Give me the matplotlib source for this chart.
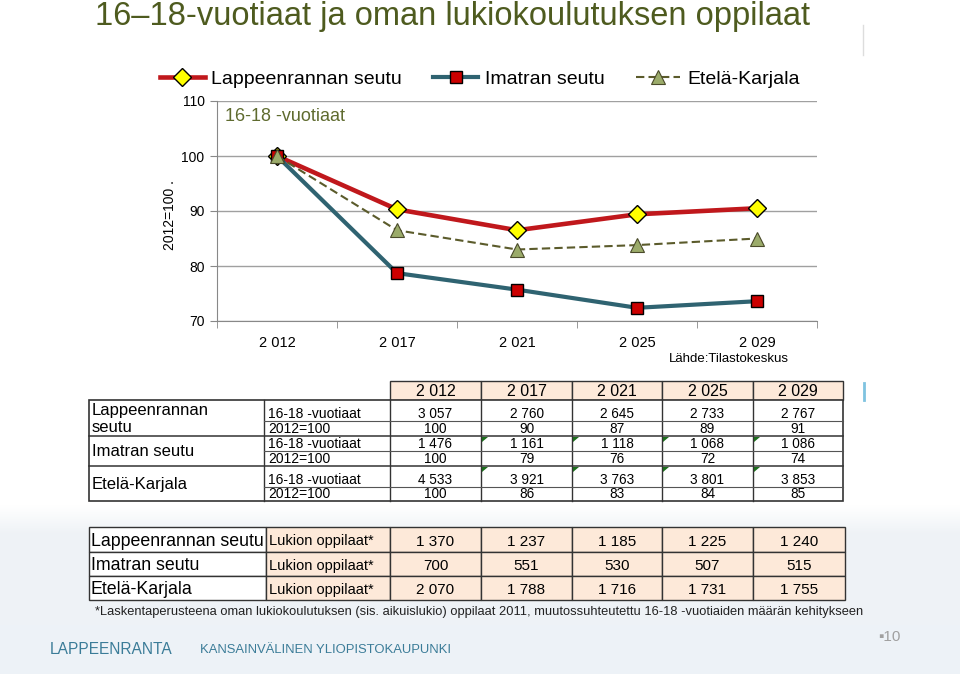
import matplotlib
matplotlib.use("Agg")
import matplotlib.pyplot as plt
import numpy as np
from matplotlib.patches import Rectangle, Polygon

plt.rcParams["font.family"] = ["Liberation Sans", "DejaVu Sans"]

# --- data -------------------------------------------------------------
years = ["2 012", "2 017", "2 021", "2 025", "2 029"]
regions = ["Lappeenrannan seutu", "Imatran seutu", "Etelä-Karjala"]

# index values (2012=100)
lpr_index = [100, 90.3, 86.5, 89.4, 90.5]
ima_index = [100, 78.7, 75.7, 72.4, 73.6]
ek_index = [100, 86.5, 83.0, 83.8, 85.0]

# upper table
lpr_count = [3057, 2760, 2645, 2733, 2767]
lpr_pct = [100, 90, 87, 89, 91]
ima_count = [1476, 1161, 1118, 1068, 1086]
ima_pct = [100, 79, 76, 72, 74]
ek_count = [4533, 3921, 3763, 3801, 3853]
ek_pct = [100, 86, 83, 84, 85]

# lower table
lpr_lukio = [1370, 1237, 1185, 1225, 1240]
ima_lukio = [700, 551, 530, 507, 515]
ek_lukio = [2070, 1788, 1716, 1731, 1755]

title = "16\u201318-vuotiaat ja oman lukiokoulutuksen oppilaat"
footnote = ("*Laskentaperusteena oman lukiokoulutuksen (sis. aikuislukio) oppilaat 2011, "
            "muutossuhteutettu 16-18 -vuotiaiden määrän kehitykseen")

TITLE_C = "#4e5b1f"
PEACH = "#fde9d9"
EDGE = "#333333"


def fmt(v):
    return f"{v:,}".replace(",", " ")


fig = plt.figure(figsize=(9.6, 6.74), dpi=100)

# background axes in pixel coordinates (slide decoration + tables)
bg = fig.add_axes([0, 0, 1, 1], zorder=0)
bg.set_xlim(0, 960)
bg.set_ylim(674, 0)
bg.axis("off")

# light band at the bottom of the slide
grad = np.linspace(0, 1, 40)[:, None]
bg.imshow(grad, extent=(0, 960, 535, 505), cmap=matplotlib.colors.LinearSegmentedColormap.from_list(
    "g", ["#ffffff", "#eef2f6"]), aspect="auto", zorder=0)
bg.add_patch(Rectangle((0, 535), 960, 139, facecolor="#eef2f6", edgecolor="none", zorder=0))
bg.add_patch(Rectangle((0, 625), 960, 49, facecolor="#edf2f7", edgecolor="none", zorder=0))

bg.text(95, 16, title, fontsize=23.5, color=TITLE_C, va="center", ha="left")
bg.plot([863, 863], [25, 55], color="#dddddd", lw=1)
bg.plot([864, 864], [383, 400], color="#7fc3e0", lw=2)

# --- line chart ---------------------------------------------------------
ax = fig.add_axes([217 / 960, 1 - 321 / 674, 600 / 960, 220 / 674], zorder=2)
ax.patch.set_alpha(0)
x = np.arange(len(years))
l1, = ax.plot(x, lpr_index, color="#c0181c", lw=3.3, marker="D", ms=9,
              mfc="#ffff00", mec="black", mew=1, solid_joinstyle="round")
l2, = ax.plot(x, ima_index, color="#2f6371", lw=3.0, marker="s", ms=8,
              mfc="#cc0000", mec="black", mew=1, solid_joinstyle="round")
l3, = ax.plot(x, ek_index, color="#5b5b2b", lw=1.5, ls=(0, (4, 2)), marker="^", ms=10,
              mfc="#9bab6a", mec="#4a4a2a", mew=0.8)

ax.set_xlim(-0.5, len(years) - 0.5)
ax.set_ylim(70, 110)
ax.set_yticks([70, 80, 90, 100, 110])
ax.set_xticks(x)
ax.set_xticklabels(years)
ax.set_xticks(np.arange(-0.5, len(years), 1), minor=True)
ax.tick_params(axis="x", which="major", length=0, pad=11, labelsize=10.5)
ax.tick_params(axis="x", which="minor", length=5, color="#888888", direction="out")
ax.tick_params(axis="y", length=5, color="#888888", labelsize=10, pad=4)
ax.yaxis.grid(True, color="#a0a0a0", lw=1)
ax.set_axisbelow(True)
for s in ["top", "right"]:
    ax.spines[s].set_visible(False)
for s in ["left", "bottom"]:
    ax.spines[s].set_color("#888888")

fig.text(170 / 960, 1 - 215 / 674, "2012=100 .", rotation=90, fontsize=10,
         ha="center", va="center")
ax.text(0.013, 0.93, "16-18 -vuotiaat", transform=ax.transAxes, fontsize=13,
        color="#5f6b2f", ha="left", va="center")
fig.text(789 / 960, 1 - 359 / 674, "Lähde:Tilastokeskus", fontsize=9.5, ha="right", va="center")

fig.legend([l1, l2, l3], regions, loc="center left", bbox_to_anchor=(152 / 960, 1 - 79 / 674),
           ncol=3, frameon=False, fontsize=14, handlelength=2.3, handletextpad=0.35,
           columnspacing=1.6, borderaxespad=0)

# --- upper table ----------------------------------------------------------
col_x = [89, 264, 390, 481, 572, 662, 753, 843]
row_y = [400, 421, 436, 451, 466, 487, 501]
head_top = 381

for j, yr in enumerate(years):
    x0, x1 = col_x[j + 2], col_x[j + 3]
    bg.add_patch(Rectangle((x0, head_top), x1 - x0, row_y[0] - head_top,
                           facecolor=PEACH, edgecolor=EDGE, lw=1, zorder=2))
    bg.text((x0 + x1) / 2, (head_top + row_y[0]) / 2 + 1, yr, fontsize=11.5,
            ha="center", va="center", zorder=3)

bg.add_patch(Rectangle((col_x[0], row_y[0]), col_x[-1] - col_x[0], row_y[-1] - row_y[0],
                       facecolor="white", edgecolor=EDGE, lw=1.2, zorder=2))
for cx in col_x[1:-1]:
    bg.plot([cx, cx], [row_y[0], row_y[-1]], color=EDGE, lw=1, zorder=3)
for k, ry in enumerate(row_y[1:-1]):
    if k % 2 == 1:
        bg.plot([col_x[0], col_x[-1]], [ry, ry], color=EDGE, lw=1.1, zorder=3)
    else:
        bg.plot([col_x[1], col_x[-1]], [ry, ry], color="#555555", lw=0.8, zorder=3)

upper_rows = [lpr_count, lpr_pct, ima_count, ima_pct, ek_count, ek_pct]
sub_labels = ["16-18 -vuotiaat", "2012=100"] * 3
for r, vals in enumerate(upper_rows):
    yb = row_y[r + 1] - 7
    bg.text(col_x[1] + 4, yb, sub_labels[r], fontsize=10, ha="left", va="center", zorder=4)
    for j, v in enumerate(vals):
        bg.text((col_x[j + 2] + col_x[j + 3]) / 2, yb, fmt(v), fontsize=9.8,
                ha="center", va="center", zorder=4)

group_labels = ["Lappeenrannan\nseutu", "Imatran seutu", "Etelä-Karjala"]
for g, lab in enumerate(group_labels):
    y0, y1 = row_y[2 * g], row_y[2 * g + 2]
    bg.text(col_x[0] + 3, (y0 + y1) / 2 + 1, lab, fontsize=12, ha="left", va="center",
            linespacing=1.15, zorder=4)

# comment markers on the 16-18 cells
for r in (2, 4):
    for j in range(1, 5):
        x0, y0 = col_x[j + 2], row_y[r]
        bg.add_patch(Polygon([(x0 + 1, y0 + 1), (x0 + 7, y0 + 1), (x0 + 1, y0 + 6)],
                             closed=True, facecolor="#1e6e1e", edgecolor="none", zorder=4))

# --- lower table ----------------------------------------------------------
col2_x = [89, 266, 390, 481, 572, 662, 753, 845]
row2_y = [527, 552, 576, 600]
lower_rows = [lpr_lukio, ima_lukio, ek_lukio]
for r, vals in enumerate(lower_rows):
    y0, y1 = row2_y[r], row2_y[r + 1]
    for c in range(len(col2_x) - 1):
        bg.add_patch(Rectangle((col2_x[c], y0), col2_x[c + 1] - col2_x[c], y1 - y0,
                               facecolor="white" if c == 0 else PEACH,
                               edgecolor=EDGE, lw=1, zorder=2))
    yc = (y0 + y1) / 2 + 2
    bg.text(col2_x[0] + 2, yc, regions[r], fontsize=12.8, ha="left", va="center", zorder=4)
    bg.text(col2_x[1] + 3, yc, "Lukion oppilaat*", fontsize=10.5, ha="left", va="center", zorder=4)
    for j, v in enumerate(vals):
        bg.text((col2_x[j + 2] + col2_x[j + 3]) / 2, yc, fmt(v), fontsize=11,
                ha="center", va="center", zorder=4)

bg.text(95, 612, footnote, fontsize=9.3, ha="left", va="center", color="#222222")

# --- footer -------------------------------------------------------------
bg.text(50, 650, "LAPPEENRANTA", fontsize=11.2, color="#3b7c98", ha="left", va="center")
bg.text(200, 650, "KANSAINVÄLINEN YLIOPISTOKAUPUNKI", fontsize=9.4, color="#3b7c98",
        ha="left", va="center")
bg.text(878, 637, "\u25aa10", fontsize=11, color="#a0a0a0", ha="left", va="center")

fig.savefig("out.png", dpi=100)
